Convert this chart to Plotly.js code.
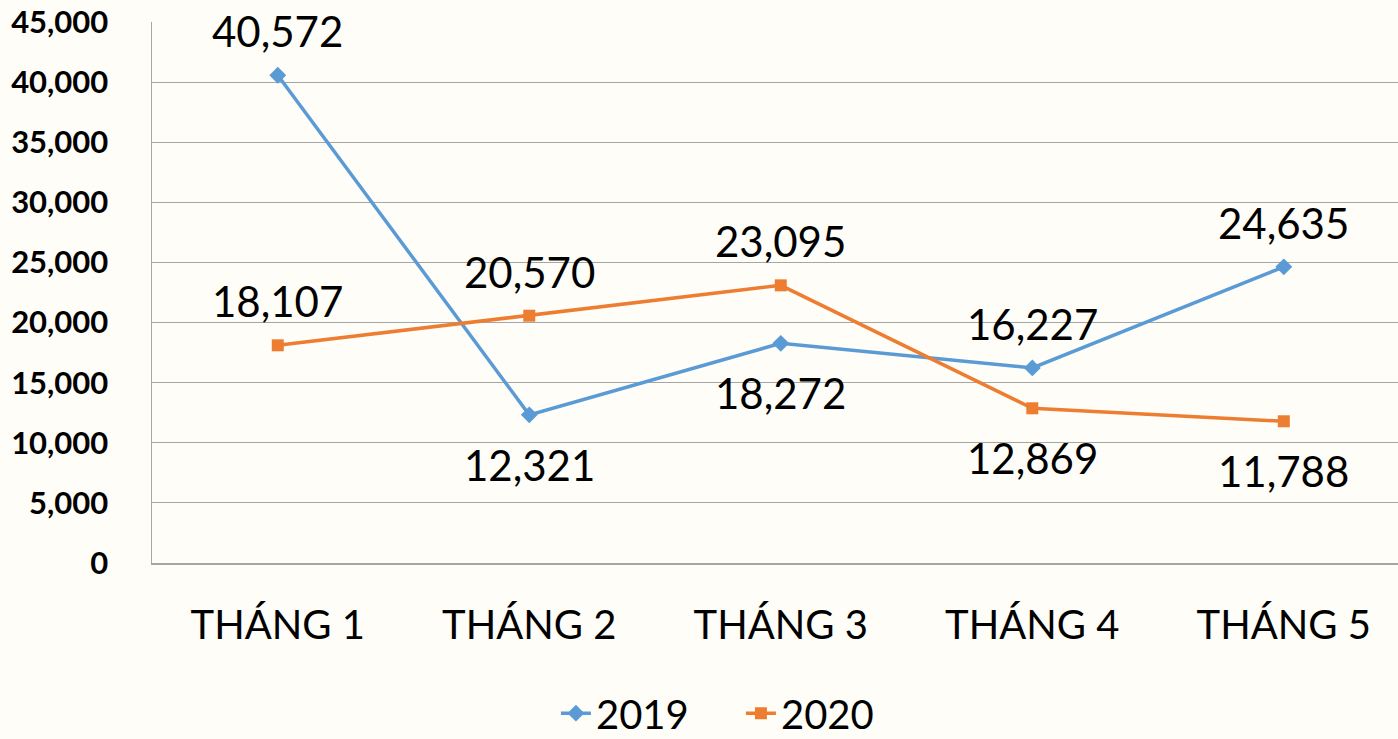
<!DOCTYPE html>
<html><head><meta charset="utf-8">
<script src="https://cdn.plot.ly/plotly-3.0.1.min.js"></script>
<style>body{margin:0;background:#FEFDF8;} #c{width:1398px;height:739px;}</style>
</head><body><div id="c"></div>
<script>
const categories = ["THÁNG 1","THÁNG 2","THÁNG 3","THÁNG 4","THÁNG 5"];
const values2019 = [40572, 12321, 18272, 16227, 24635];
const values2020 = [18107, 20570, 23095, 12869, 11788];
const pos2019 = ["above","below","below","above","above"];
const pos2020 = ["above","above","above","below","below"];
const c2019 = "#5B9BD5", c2020 = "#ED7D31";
const fontFam = "Lato, 'Open Sans', sans-serif";

const traces = [
  {x: categories, y: values2019, name: "2019", type: "scatter", mode: "lines+markers",
   line: {color: c2019, width: 3.5}, marker: {symbol: "diamond", size: 13, color: c2019}},
  {x: categories, y: values2020, name: "2020", type: "scatter", mode: "lines+markers",
   line: {color: c2020, width: 3.5}, marker: {symbol: "square", size: 12, color: c2020}}
];
const fmt = v => v.toLocaleString("en-US");
const annotations = [];
function addLabels(vals, pos){
  vals.forEach((v,i)=>{
    annotations.push({x: categories[i], y: v, text: fmt(v), showarrow: false,
      yshift: pos[i]==="above" ? 44 : -50, font: {family: fontFam, size: 42, color: "#000"}});
  });
}
addLabels(values2019, pos2019);
addLabels(values2020, pos2020);

const layout = {
  width: 1398, height: 739,
  paper_bgcolor: "#FEFDF8", plot_bgcolor: "#FEFDF8",
  margin: {l: 152, r: 0, t: 22, b: 176},
  showlegend: true,
  legend: {orientation: "h", x: 0.53, xanchor: "center", xref: "container",
    y: 0.035, yanchor: "middle", yref: "container",
    entrywidth: 140, entrywidthmode: "pixels",
    font: {family: fontFam, size: 40, color: "#000"}, bgcolor: "rgba(0,0,0,0)"},
  xaxis: {type: "category", range: [-0.5, 4.454], showgrid: false, zeroline: false,
    automargin: false,
    showline: true, linecolor: "#A6A6A6", linewidth: 1.5, ticks: "",
    tickfont: {family: fontFam, size: 40, color: "#000"}, ticklabelstandoff: 26},
  yaxis: {range: [0, 45000], dtick: 5000, tickformat: ",d", showgrid: true,
    automargin: false,
    gridcolor: "#A6A6A6", gridwidth: 1.2, zeroline: false, showline: true,
    linecolor: "#A6A6A6", linewidth: 1.5, ticks: "", ticklabelstandoff: 36,
    tickfont: {family: fontFam, size: 31, color: "#000", weight: "bold"}},
  annotations: annotations
};
Plotly.newPlot("c", traces, layout, {displayModeBar: false, staticPlot: true});
</script></body></html>
